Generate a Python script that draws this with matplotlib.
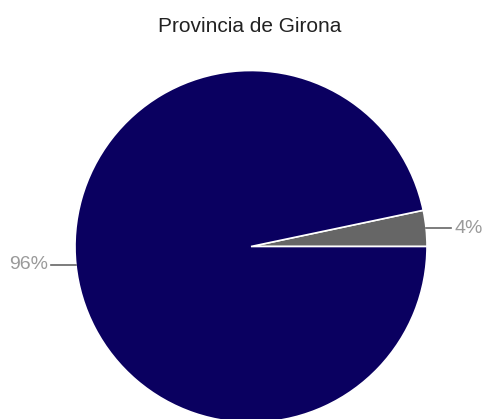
import numpy as np
import matplotlib
matplotlib.use('Agg')
import matplotlib.pyplot as plt

plt.rcParams['font.family'] = ['Liberation Sans', 'DejaVu Sans']

titulo = 'Provincia de Girona'
valores = [3.3, 96.7]
rotulos = ['4%', '96%']
cores = ['#666666', '#0a0060']

W, H = 485, 419
fig = plt.figure(figsize=(W / 100, H / 100), dpi=100)
ax = fig.add_axes([0, 0, 1, 1])

cx, cy, r = 251, H - 246.5, 176
fatias, _ = ax.pie(valores, colors=cores, startangle=0, counterclock=True,
                   center=(cx, cy), radius=r, frame=True,
                   wedgeprops={'edgecolor': 'white', 'linewidth': 1.2})
ax.set_xlim(0, W)
ax.set_ylim(0, H)
ax.set_aspect('equal')
ax.axis('off')

# rotulos com linha guia
for w, txt in zip(fatias, rotulos):
    ang = np.deg2rad((w.theta1 + w.theta2) / 2)
    x0 = cx + r * np.cos(ang)
    y0 = cy + r * np.sin(ang)
    lado = 1 if np.cos(ang) >= 0 else -1
    x1 = x0 + lado * 25
    ax.plot([x0, x1], [y0, y0], color='#666666', lw=1.2)
    ax.text(x1 + lado * 3, y0, txt, color='#9a9a9a', fontsize=14,
            ha='left' if lado > 0 else 'right', va='center')

fig.text(250 / W, 1 - 27 / H, titulo, ha='center', va='center',
         fontsize=15, color='#222222')

fig.savefig('out.png', dpi=100)
